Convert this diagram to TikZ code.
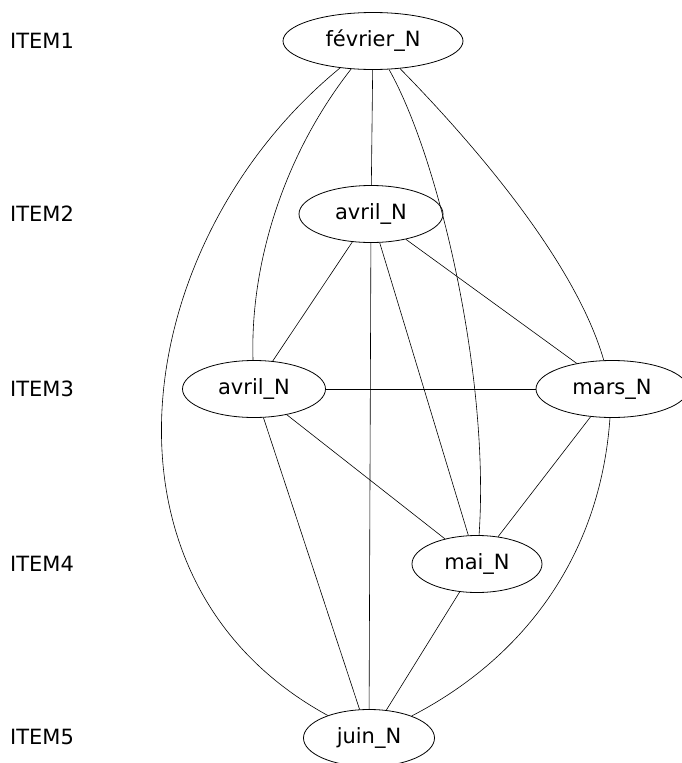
\documentclass[tikz,border=0pt]{standalone}
\usepackage{fontspec}
\setmainfont{DejaVu Sans}
\usetikzlibrary{shapes.geometric}

\begin{document}
\begin{tikzpicture}[x=1pt, y=-1pt,
  tok/.style={ellipse, draw, line width=0.8pt, minimum height=57pt, inner sep=0pt, font=\fontsize{21}{25}\selectfont},
  lbl/.style={anchor=west, inner sep=0pt, font=\fontsize{21}{25}\selectfont},
  lnk/.style={line width=0.6pt}
]
\useasboundingbox (0,0) rectangle (681,763);
% row labels
\node[lbl] (item1) at (10,41) {ITEM1};
\node[lbl] (item2) at (10,214) {ITEM2};
\node[lbl] (item3) at (10,389) {ITEM3};
\node[lbl] (item4) at (10,564) {ITEM4};
\node[lbl] (item5) at (10,737) {ITEM5};
% tokens
\node[tok, minimum width=180pt] (fevrier) at (373,41) {février\_N};
\node[tok, minimum width=144pt] (avrilA) at (371,214) {avril\_N};
\node[tok, minimum width=143pt] (avrilB) at (254,389) {avril\_N};
\node[tok, minimum width=152pt] (mars) at (612,389) {mars\_N};
\node[tok, minimum width=130pt] (mai) at (477,564) {mai\_N};
\node[tok, minimum width=131pt] (juin) at (369,738) {juin\_N};
% straight links
\draw[lnk] (fevrier) -- (avrilA);
\draw[lnk] (avrilA) -- (avrilB);
\draw[lnk] (avrilA) -- (mars);
\draw[lnk] (avrilA) -- (mai);
\draw[lnk] (avrilA) -- (juin);
\draw[lnk] (avrilB) -- (mars);
\draw[lnk] (avrilB) -- (mai);
\draw[lnk] (avrilB) -- (juin);
\draw[lnk] (mars) -- (mai);
\draw[lnk] (mai) -- (juin);
% curved links
\draw[lnk] (fevrier) .. controls (130,240) and (80,580) .. (juin);
\draw[lnk] (fevrier) .. controls (280,160) and (250,270) .. (avrilB);
\draw[lnk] (fevrier) .. controls (440,160) and (490,380) .. (mai);
\draw[lnk] (fevrier) .. controls (470,140) and (575,260) .. (mars);
\draw[lnk] (mars) .. controls (600,560) and (520,660) .. (juin);
\end{tikzpicture}
\end{document}
